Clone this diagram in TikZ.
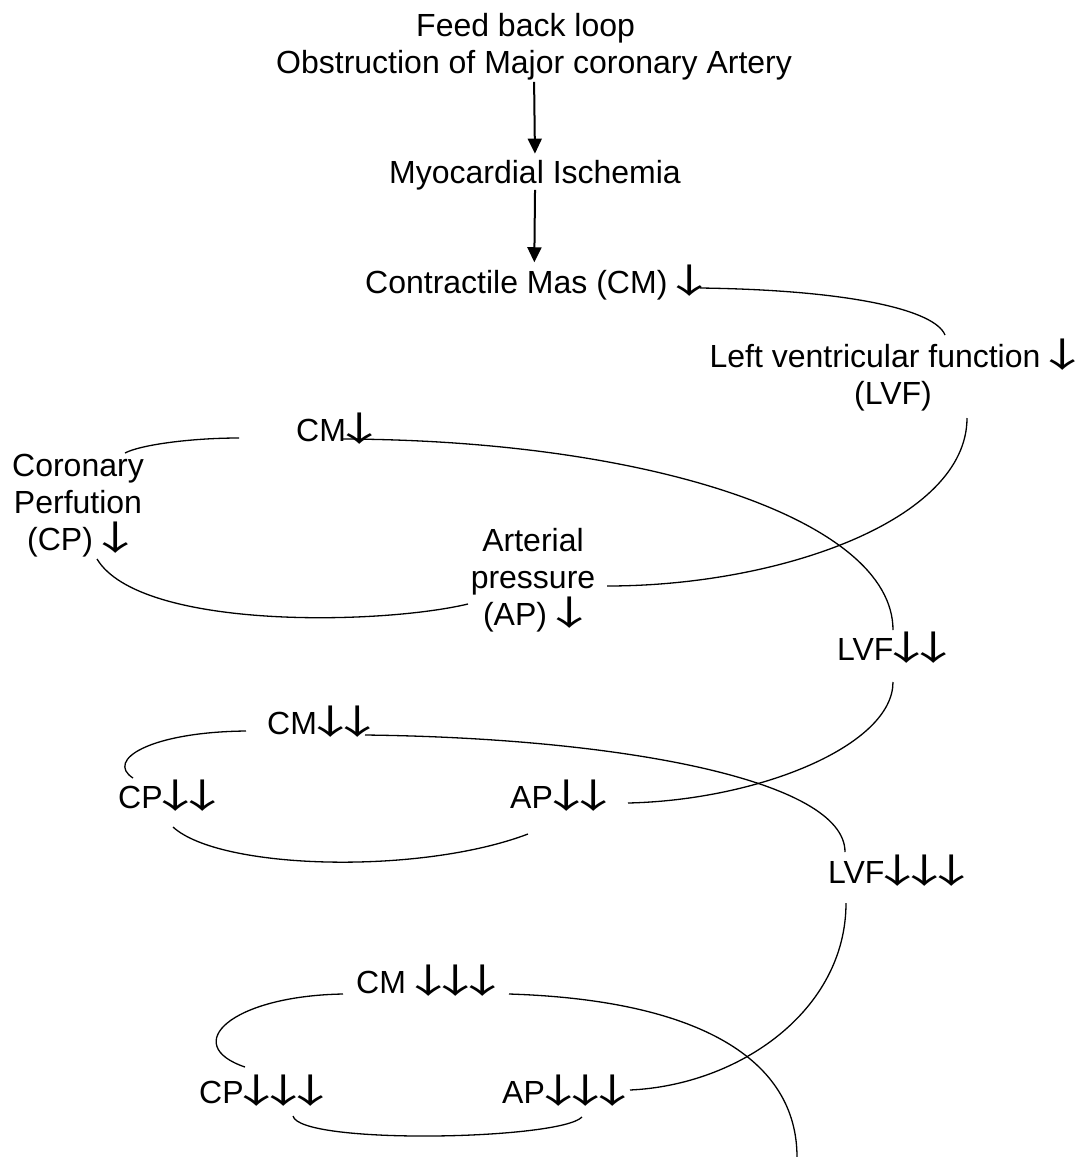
\documentclass[tikz,border=0pt]{standalone}
\usepackage{graphicx}
\usepackage{fontspec}
\setmainfont{Liberation Sans}
\newfontfamily\arrowfont{Noto Sans CJK JP}
\usetikzlibrary{arrows.meta}
% falling-value marker: a wide, open-headed down arrow
\newcommand{\decr}{\makebox[27pt]{\scalebox{1.6}[1]{\arrowfont\fontsize{34}{36.8}\selectfont ↓}}}

\begin{document}
\begin{tikzpicture}[x=1pt,y=-1pt,
  lbl/.style={inner sep=0pt, font=\fontsize{32}{36.8}\selectfont},
  multi/.style={lbl, align=center},
  flow/.style={line width=2pt, -{Triangle[length=15pt,width=14pt]}},
  loopline/.style={line width=1.3pt}]
\useasboundingbox (0,0) rectangle (1085,1157);

% header and main chain
\node[lbl, anchor=base west] (fb)   at (416,36)  {Feed back loop};
\node[lbl, anchor=base west] (obst) at (276,73)  {Obstruction of Major coronary Artery};
\node[lbl, anchor=base west] (myo)  at (389,183) {Myocardial Ischemia};
\node[lbl, anchor=base west] (cm0)  at (365,293) {Contractile Mas (CM) \decr};
\node[multi, anchor=base] (lvf0) at (893,404) {Left ventricular function \decr\\(LVF)};

\draw[flow, shorten <=2pt, shorten >=6pt] (obst.south) -- (myo.north);
\draw[flow, shorten >=2pt] (myo.south) -- (cm0.north);

% first loop
\node[lbl, anchor=base west] (cm1) at (296,441) {CM\decr};
\node[multi, anchor=base] (cp1) at (78,550)  {Coronary\\Perfution\\(CP) \decr};
\node[multi, anchor=base] (ap1) at (533,625) {Arterial\\pressure\\(AP) \decr};
\node[lbl, anchor=base west] (lvf1) at (837,660) {LVF\decr\decr};

% second loop
\node[lbl, anchor=base west] (cm2)  at (267,734) {CM\decr\decr};
\node[lbl, anchor=base west] (cp2)  at (118,808) {CP\decr\decr};
\node[lbl, anchor=base west] (ap2)  at (510,808) {AP\decr\decr};
\node[lbl, anchor=base west] (lvf2) at (828,883) {LVF\decr\decr\decr};

% third loop
\node[lbl, anchor=base west] (cm3) at (356,993)  {CM \decr\decr\decr};
\node[lbl, anchor=base west] (cp3) at (199,1103) {CP\decr\decr\decr};
\node[lbl, anchor=base west] (ap3) at (502,1103) {AP\decr\decr\decr};

% line ends beside the labels
\coordinate (cm0R)  at (700,288);
\coordinate (lvf0T) at (945,335);
\coordinate (lvf0B) at (967,418);
\coordinate (ap1R)  at (607,586);
\coordinate (ap1L)  at (468,604);
\coordinate (cp1B)  at (97,559);
\coordinate (cp1T)  at (125,453);
\coordinate (cm1L)  at (239,438);
\coordinate (cm1R)  at (342,439);
\coordinate (lvf1T) at (893,630);
\coordinate (lvf1B) at (893,682);
\coordinate (ap2R)  at (628,803);
\coordinate (ap2B)  at (528,834);
\coordinate (cp2B)  at (173,827);
\coordinate (cp2T)  at (133,778);
\coordinate (cm2L)  at (246,731);
\coordinate (cm2R)  at (365,735);
\coordinate (lvf2T) at (845,852);
\coordinate (lvf2B) at (846,903);
\coordinate (ap3R)  at (630,1090);
\coordinate (ap3B)  at (582,1117);
\coordinate (cp3B)  at (293,1116);
\coordinate (cp3T)  at (245,1067);
\coordinate (cm3L)  at (343,994);
\coordinate (cm3R)  at (509,994);
\coordinate (tail)  at (797,1157);

% spiral of loops
\draw[loopline] (cm0R) .. controls (850,290) and (935,310) .. (lvf0T);
\draw[loopline] (lvf0B) .. controls (967,520) and (780,586) .. (ap1R);
\draw[loopline] (ap1L) .. controls (380,625) and (140,630) .. (cp1B);
\draw[loopline] (cp1T) .. controls (140,445) and (190,438) .. (cm1L);
\draw[loopline] (cm1R) .. controls (650,440) and (893,520) .. (lvf1T);
\draw[loopline] (lvf1B) .. controls (893,745) and (760,800) .. (ap2R);
\draw[loopline] (ap2B) .. controls (420,875) and (220,870) .. (cp2B);
\draw[loopline] (cp2T) .. controls (105,760) and (150,732) .. (cm2L);
\draw[loopline] (cm2R) .. controls (620,738) and (845,780) .. (lvf2T);
\draw[loopline] (lvf2B) .. controls (846,1010) and (740,1085) .. (ap3R);
\draw[loopline] (ap3B) .. controls (560,1140) and (300,1145) .. (cp3B);
\draw[loopline] (cp3T) .. controls (180,1045) and (230,996) .. (cm3L);
\draw[loopline] (cm3R) .. controls (700,1000) and (797,1060) .. (tail);
\end{tikzpicture}
\end{document}
